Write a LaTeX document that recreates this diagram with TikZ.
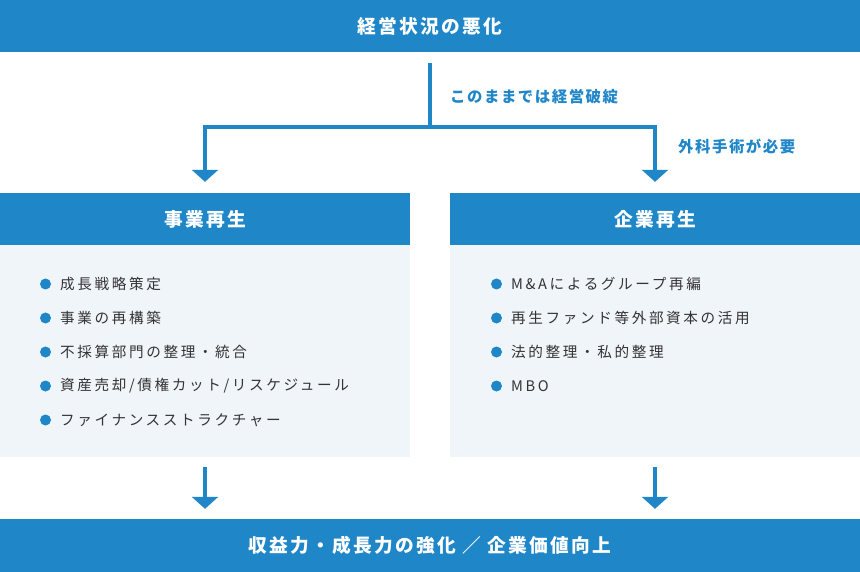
\documentclass[tikz,border=0pt]{standalone}
\usepackage{fontspec}
\setmainfont{Noto Sans CJK JP}
\usepackage{xcolor}
\usepackage{tikz}
\usetikzlibrary{arrows.meta}

\definecolor{mainblue}{HTML}{1F86C8}
\definecolor{panel}{HTML}{F0F5F9}
\definecolor{itemtext}{HTML}{333333}

\begin{document}
\begin{tikzpicture}[x=1pt, y=-1pt,
        bar/.style = {fill=mainblue, text=white, minimum height=52pt, inner sep=0pt, font=\fontsize{18.7}{22}\selectfont\bfseries\addfontfeatures{LetterSpace=12}},
        panelbox/.style = {fill=panel, minimum width=410pt, minimum height=212pt, inner sep=0pt},
        item/.style = {anchor=west, inner sep=0pt, text=itemtext, font=\fontsize{14.6}{16}\selectfont\addfontfeatures{LetterSpace=18}},
        note/.style = {anchor=west, inner sep=0pt, text=mainblue, font=\fontsize{15.4}{18}\selectfont\bfseries\addfontfeatures{LetterSpace=10}},
        flow/.style = {draw=mainblue, line width=4pt},
        arrow/.style = {flow, -{Triangle[width=26pt, length=12pt]}}]
        \useasboundingbox (0,0) rectangle (860,572);

        \node[bar, minimum width=860pt] (top) at (430,26) {経営状況の悪化};
        \node[bar, minimum width=410pt] (jigyo) at (205,219) {事業再生};
        \node[bar, minimum width=410pt] (kigyo) at (655,219) {企業再生};
        \node[panelbox] (lbody) at (205,351) {};
        \node[panelbox] (rbody) at (655,351) {};
        \node[bar, minimum width=860pt, minimum height=53pt] (goal) at (430,545.5) {収益力・成長力の強化 ／ 企業価値向上};

        % branching from the top bar
        \coordinate (split) at (430,127);
        \draw[flow] ([yshift=-11pt]top.south) -- (split);
        \draw[arrow] (split) -| ([yshift=11pt]jigyo.north);
        \draw[arrow] (split) -| ([yshift=11pt]kigyo.north);
        \node[note] (n1) at (450,97) {このままでは経営破綻};
        \node[note] (n2) at (678,147) {外科手術が必要};

        % left list
        \node[item] (l1) at (60,284) {成長戦略策定};
        \node[item] (l2) at (60,318) {事業の再構築};
        \node[item] (l3) at (60,352) {不採算部門の整理・統合};
        \node[item] (l4) at (60,386) {資産売却/債権カット/リスケジュール};
        \node[item] (l5) at (60,420) {ファイナンスストラクチャー};
        \foreach \y in {284,318,352,386,420}
            \fill[mainblue] (45.5,\y) circle (5.5);

        % right list
        \node[item] (r1) at (511,284) {M\&Aによるグループ再編};
        \node[item] (r2) at (511,318) {再生ファンド等外部資本の活用};
        \node[item] (r3) at (511,352) {法的整理・私的整理};
        \node[item] (r4) at (511,386) {MBO};
        \foreach \y in {284,318,352,386}
            \fill[mainblue] (496.5,\y) circle (5.5);

        % into the result
        \draw[arrow] ([yshift=-10pt]lbody.south) -- ([yshift=10pt]goal.north -| lbody.south);
        \draw[arrow] ([yshift=-10pt]rbody.south) -- ([yshift=10pt]goal.north -| rbody.south);
    \end{tikzpicture}
\end{document}
